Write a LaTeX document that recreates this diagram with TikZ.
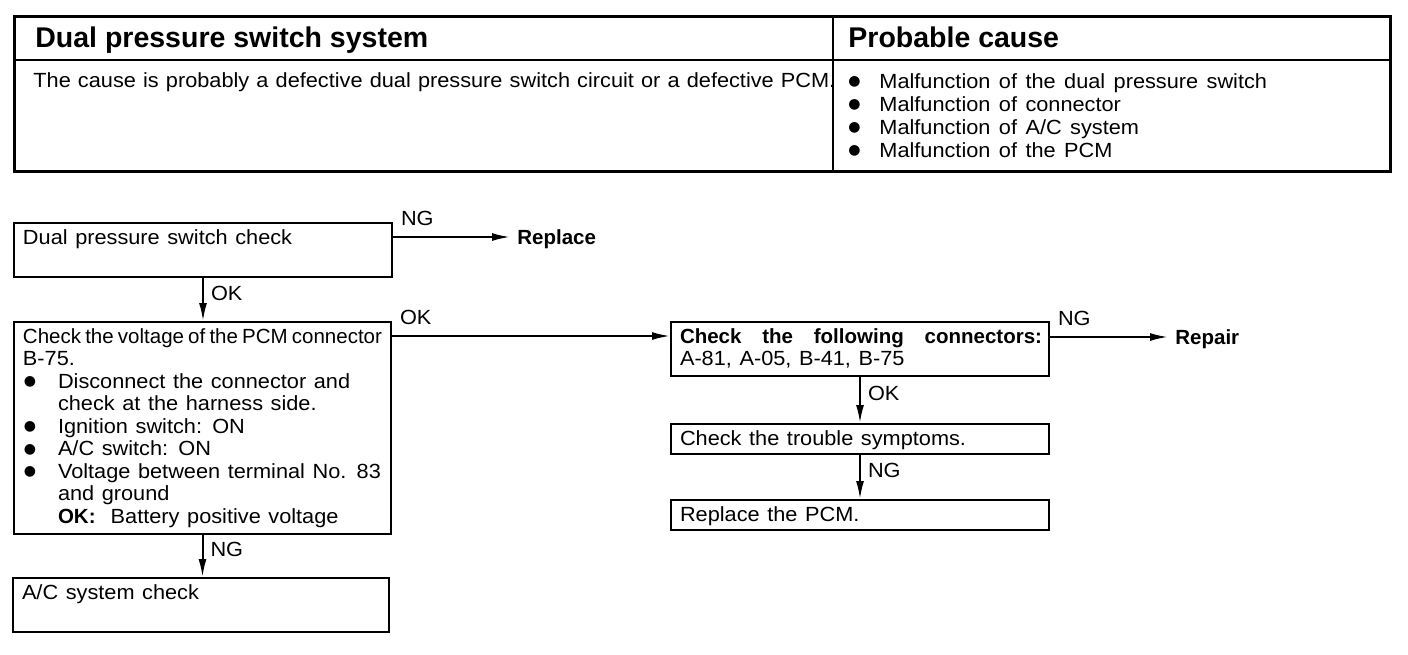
\documentclass[tikz,border=0pt]{standalone}
\usepackage{fontspec}
\setmainfont{Liberation Sans}[WordSpace=1.4, UprightFeatures={FakeStretch=1.06}]
\newfontfamily\headfont{Liberation Sans}
\newfontfamily\symfont{DejaVu Sans}
\usetikzlibrary{arrows.meta}

\newcommand{\bltdot}{\raisebox{1.2pt}{\symfont\fontsize{7}{7}\selectfont ●}}
\newcommand{\blt}[1][17.5pt]{\makebox[#1][l]{\hspace{0.5pt}\bltdot}}
\newcommand{\bind}{\hspace*{17.5pt}}

\begin{document}
\begin{tikzpicture}[x=0.5pt, y=-0.5pt,
  every node/.style={font=\fontsize{10.25}{11.25}\selectfont},
  box/.style 2 args={draw, line width=1pt, anchor=north west, align=left,
    inner xsep=4.5pt, inner ysep=3pt, text width=#1, text height=7.5pt, text depth=#2,
    execute at begin node={\spaceskip=0.37em plus 0.2em minus 0.15em}},
  txt/.style={inner sep=0pt, anchor=base west},
  head/.style={txt, font=\fontsize{14.25}{16}\selectfont\headfont\bfseries},
  res/.style={inner xsep=3.5pt, anchor=west, font=\fontsize{10.25}{11.25}\selectfont\headfont\bfseries},
  arr/.style={line width=1pt, -{Latex[length=9pt,width=4pt]}},
  hlbl/.style={pos=0, inner sep=0pt, anchor=base west, xshift=3.5pt, yshift=5.75pt},
  vlbl/.style={pos=0.35, inner sep=0pt, anchor=west, xshift=3.5pt}
]
\useasboundingbox (0,0) rectangle (1408,654);

% table at the top
\draw[line width=1.5pt] (14,16) rectangle (1390,171);
\draw[line width=1pt] (14,60) -- (1390,60);
\draw[line width=1pt] (833,16) -- (833,171);
\node[head] (sysname) at (35,47) {Dual pressure switch system};
\node[head] (probcause) at (848,47) {Probable cause};
\node[txt] (causetxt) at (33,87) {\makebox[401pt][s]{\spaceskip=0.3em plus 0.3em minus 0.2em The cause is probably a defective dual pressure switch circuit or a defective PCM.}};
\node[txt] (cause1) at (847,88) {\blt[16pt]Malfunction of the dual pressure switch};
\node[txt] (cause2) at (847,111) {\blt[16pt]Malfunction of connector};
\node[txt] (cause3) at (847,134) {\blt[16pt]Malfunction of A/C system};
\node[txt] (cause4) at (847,157) {\blt[16pt]Malfunction of the PCM};

% flow chart
\node[box={180pt}{13.5pt}] (dpscheck) at (13,222) {Dual pressure switch check};
\node[res] (replace) at (510,239) {Replace};
\node[box={179.5pt}{92.5pt}] (pcmvolt) at (13,321) {%
  {\headfont\makebox[179.5pt][s]{\spaceskip=0.2em plus 1em minus 0.1em Check the voltage of the PCM connector}}\\
  B-75.\\
  \blt Disconnect the connector and\\
  \bind check at the harness side.\\
  \blt Ignition switch: ON\\
  \blt A/C switch: ON\\
  \blt Voltage between terminal No. 83\\
  \bind and ground\\
  \bind \textbf{OK:}\ \ Battery positive voltage};
\node[box={179pt}{13.5pt}] (acsys) at (12,577) {A/C system check};
\node[box={180pt}{13.5pt}] (conncheck) at (670,321) {%
  \makebox[181pt][s]{\bfseries\spaceskip=0.3em plus 1em Check the following connectors:}\\
  A-81, A-05, B-41, B-75};
\node[res] (repair) at (1168,339) {Repair};
\node[box={180pt}{1.5pt}] (symptom) at (670,423) {Check the trouble symptoms.};
\node[box={180pt}{1.5pt}] (pcmrep) at (670,499) {Replace the PCM.};

\coordinate (ngstart) at ([yshift=-7.5pt]dpscheck.north east);
\coordinate (okstart) at ([yshift=-7.5pt]pcmvolt.north east);
\coordinate (rpstart) at ([yshift=-8pt]conncheck.north east);

\draw[arr] (ngstart) -- node[hlbl] {NG} (ngstart -| replace.west);
\draw[arr] (dpscheck.south) -- node[vlbl] {OK} (dpscheck.south |- pcmvolt.north);
\draw[arr] (okstart) -- node[hlbl] {OK} (okstart -| conncheck.west);
\draw[arr] (pcmvolt.south) -- node[vlbl] {NG} (pcmvolt.south |- acsys.north);
\draw[arr] (rpstart) -- node[hlbl] {NG} (rpstart -| repair.west);
\draw[arr] (conncheck.south) -- node[vlbl] {OK} (symptom.north);
\draw[arr] (symptom.south) -- node[vlbl] {NG} (pcmrep.north);
\end{tikzpicture}
\end{document}
